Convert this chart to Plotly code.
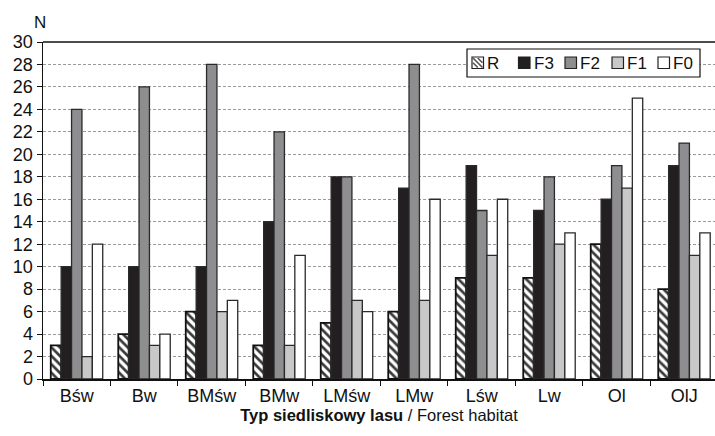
import plotly.graph_objects as go

categories = ["Bśw", "Bw", "BMśw", "BMw", "LMśw", "LMw", "Lśw", "Lw", "Ol", "OlJ"]
R_vals  = [3, 4, 6, 3, 5, 6, 9, 9, 12, 8]
F3_vals = [10, 10, 10, 14, 18, 17, 19, 15, 16, 19]
F2_vals = [24, 26, 28, 22, 18, 28, 15, 18, 19, 21]
F1_vals = [2, 3, 6, 3, 7, 7, 11, 12, 17, 11]
F0_vals = [12, 4, 7, 11, 6, 16, 16, 13, 25, 13]
series_names = ["R", "F3", "F2", "F1", "F0"]
y_ticks = list(range(0, 31, 2))

FONT = "Liberation Sans, Arial, sans-serif"
W, H = 715, 436
ML, MR, MT, MB = 43, 0, 42, 57
PW, PH = W - ML - MR, H - MT - MB

colors = {"F3": "#231f20", "F2": "#8e8e90", "F1": "#c8c8c8", "F0": "#ffffff"}

fig = go.Figure()
fig.add_trace(go.Bar(
    name="R", x=categories, y=R_vals,
    marker=dict(color="white",
                pattern=dict(shape="\\", fgcolor="#3a3a3a", bgcolor="white",
                             size=6, solidity=0.45),
                line=dict(color="#111111", width=1.8)),
))
for name, vals in [("F3", F3_vals), ("F2", F2_vals), ("F1", F1_vals), ("F0", F0_vals)]:
    fig.add_trace(go.Bar(
        name=name, x=categories, y=vals,
        marker=dict(color=colors[name], line=dict(color="#2a2a2a", width=1.3)),
    ))

fig.update_layout(
    width=W, height=H,
    margin=dict(l=ML, r=MR, t=MT, b=MB),
    paper_bgcolor="white", plot_bgcolor="white",
    barmode="group", bargap=0.23, bargroupgap=0,
    font=dict(family=FONT, color="#111111", size=17),
    showlegend=False,
    template="none",
    xaxis=dict(
        type="category", range=[-0.5, 9.456], autorange=False,
        showline=True, linecolor="#111111", linewidth=1.5, mirror=False,
        ticks="outside", tickson="boundaries", ticklen=5, tickcolor="#111111",
        tickwidth=1, showspikes=False,
        tickfont=dict(size=18, family=FONT),
        showgrid=False, zeroline=False,
        title=dict(text="<b>Typ siedliskowy lasu</b> / Forest habitat",
                   font=dict(size=16.5, family=FONT), standoff=2),
    ),
    yaxis=dict(
        range=[0, 30], tickvals=y_ticks, mirror=False,
        showline=True, linecolor="#111111", linewidth=1.5,
        ticks="outside", ticklen=5, tickcolor="#111111", tickwidth=1,
        tickfont=dict(size=18, family=FONT), showspikes=False,
        showgrid=True, gridcolor="#9a9a9a", griddash="3px,2px", gridwidth=1,
        zeroline=False,
    ),
)

# top frame line of the plot area
fig.add_shape(type="line", xref="paper", yref="paper", x0=0, x1=1, y0=1, y1=1,
              layer="above", line=dict(color="#111111", width=1.5))

# "N" axis label above the y axis
fig.add_annotation(text="N", xref="paper", yref="paper", x=0, y=1,
                   xanchor="center", yanchor="middle", xshift=-3, yshift=20,
                   showarrow=False, font=dict(size=17, family=FONT))

# ---- legend box (drawn in paper space, Excel-style compact legend) ----
def px(x):
    return (x - ML) / PW

def py(y):
    return (MT + PH - y) / PH

fig.add_shape(type="rect", xref="paper", yref="paper", layer="above",
              x0=px(467), x1=px(700), y0=py(77), y1=py(49),
              fillcolor="white", line=dict(color="#111111", width=1.2))
sym_x = [472, 518.5, 565, 612, 658]
sym_top, sym_size = 57, 11.5
for name, sx in zip(series_names, sym_x):
    fill = "white" if name == "R" else colors[name]
    fig.add_shape(type="rect", xref="paper", yref="paper", layer="above",
                  x0=px(sx), x1=px(sx + sym_size), y0=py(sym_top + sym_size), y1=py(sym_top),
                  fillcolor=fill, line=dict(color="#222222", width=1.2))
    if name == "R":
        s = sym_size
        segs = [((sx + 1, sym_top + 1), (sx + s - 1, sym_top + s - 1)),
                ((sx + s / 2, sym_top + 1), (sx + s - 1, sym_top + s / 2)),
                ((sx + 1, sym_top + s / 2), (sx + s / 2, sym_top + s - 1))]
        path = " ".join(f"M{px(a[0])},{py(a[1])} L{px(b[0])},{py(b[1])}" for a, b in segs)
        fig.add_shape(type="path", xref="paper", yref="paper", layer="above",
                      path=path, line=dict(color="#555555", width=1.6))
    fig.add_annotation(text=name, xref="paper", yref="paper",
                       x=px(sx + sym_size + 1.5), y=py(sym_top + sym_size / 2 + 0.5),
                       xanchor="left", yanchor="middle", showarrow=False,
                       font=dict(size=17, family=FONT))

fig.write_html("out.html",
               config={"displayModeBar": False, "staticPlot": True},
               post_script=("document.body.style.margin='0';document.body.style.padding='0';"
                            "document.body.style.overflow='hidden';"
                            "document.documentElement.style.overflow='hidden';"))
